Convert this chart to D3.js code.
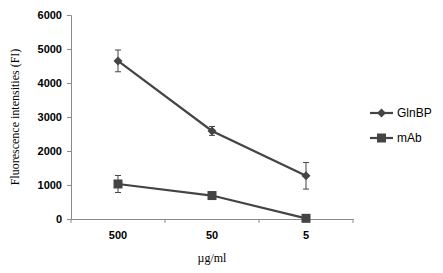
<!DOCTYPE html>
<html>
<head>
<meta charset="utf-8">
<script src="https://cdn.jsdelivr.net/npm/d3@7"></script>
<style>
  body { margin: 0; background: #fff; }
  svg { display: block; }
</style>
</head>
<body>
<div id="chart"></div>
<script>
// données
const doses = ["500", "50", "5"];
const glnbp = [4650, 2590, 1270];
const glnbpErr = [320, 130, 390];
const mab = [1030, 690, 20];
const mabErr = [250, 0, 0];
const yTicks = [0, 1000, 2000, 3000, 4000, 5000, 6000];

const width = 443, height = 273;
const margin = { left: 71, right: 90, top: 15, bottom: 54 };

const svg = d3.select("#chart").append("svg")
  .attr("width", width)
  .attr("height", height);

const x = d3.scaleBand()
  .domain(doses)
  .range([margin.left, width - margin.right]);

const y = d3.scaleLinear()
  .domain([0, 6000])
  .range([height - margin.bottom, margin.top]);

const axisColor = "#8a8a8a";
const lineColor = "#444";

// axe Y
const yAxis = svg.append("g")
  .attr("transform", `translate(${margin.left},0)`)
  .call(d3.axisLeft(y).tickValues(yTicks).tickSize(4).tickPadding(5).tickFormat(d3.format("d")));
yAxis.select(".domain").attr("stroke", axisColor);
yAxis.selectAll(".tick line").attr("stroke", axisColor);
yAxis.selectAll("text")
  .attr("font-family", "Liberation Sans, Arial, sans-serif")
  .attr("font-weight", "bold")
  .attr("font-size", 11)
  .attr("fill", "#000");

// axe X
const xAxis = svg.append("g")
  .attr("transform", `translate(0,${y(0)})`)
  .call(d3.axisBottom(x).tickSize(0).tickPadding(12));
xAxis.select(".domain").attr("stroke", axisColor);
xAxis.selectAll(".tick line").remove();
xAxis.selectAll("text")
  .attr("font-family", "Liberation Sans, Arial, sans-serif")
  .attr("font-weight", "bold")
  .attr("font-size", 11)
  .attr("fill", "#000");

// graduations entre catégories
const edges = doses.map(d => x(d)).concat([x.range()[1]]);
svg.append("g")
  .selectAll("line")
  .data(edges)
  .enter().append("line")
  .attr("x1", d => d).attr("x2", d => d)
  .attr("y1", y(0)).attr("y2", y(0) + 4)
  .attr("stroke", axisColor);

// titres des axes
svg.append("text")
  .attr("transform", `translate(15,${(y(0) + y(6000)) / 2}) rotate(-90)`)
  .attr("text-anchor", "middle")
  .attr("dy", "0.35em")
  .attr("font-family", "Liberation Serif, Times New Roman, serif")
  .attr("font-size", 12)
  .text("Fluorescence intensities (FI)");

svg.append("text")
  .attr("x", x("50") + x.bandwidth() / 2)
  .attr("y", 262)
  .attr("text-anchor", "middle")
  .attr("font-family", "Liberation Serif, Times New Roman, serif")
  .attr("font-size", 12)
  .text("µg/ml");

const cx = d => x(d) + x.bandwidth() / 2;

const series = [
  { name: "GlnBP", values: glnbp, err: glnbpErr, shape: "diamond" },
  { name: "mAb", values: mab, err: mabErr, shape: "square" }
];

const line = d3.line()
  .x((v, i) => cx(doses[i]))
  .y(v => y(v));

function marker(g, shape, px, py) {
  if (shape === "diamond") {
    g.append("path")
      .attr("d", `M${px},${py - 4.5}L${px + 4.5},${py}L${px},${py + 4.5}L${px - 4.5},${py}Z`)
      .attr("fill", lineColor);
  } else {
    g.append("rect")
      .attr("x", px - 4.5).attr("y", py - 4.5)
      .attr("width", 9).attr("height", 9)
      .attr("fill", lineColor);
  }
}

series.forEach(s => {
  const g = svg.append("g");
  // barres d'erreur
  s.values.forEach((v, i) => {
    const e = s.err[i];
    if (!e) return;
    const px = cx(doses[i]);
    g.append("line")
      .attr("x1", px).attr("x2", px)
      .attr("y1", y(v + e)).attr("y2", y(v - e))
      .attr("stroke", lineColor).attr("stroke-width", 1);
    [v + e, v - e].forEach(t => {
      g.append("line")
        .attr("x1", px - 3).attr("x2", px + 3)
        .attr("y1", y(t)).attr("y2", y(t))
        .attr("stroke", lineColor).attr("stroke-width", 1);
    });
  });
  g.append("path")
    .datum(s.values)
    .attr("d", line)
    .attr("fill", "none")
    .attr("stroke", lineColor)
    .attr("stroke-width", 2.2);
  s.values.forEach((v, i) => marker(g, s.shape, cx(doses[i]), y(v)));
});

// légende
const legend = svg.append("g");
series.forEach((s, i) => {
  const ly = 113 + i * 25;
  legend.append("line")
    .attr("x1", 370).attr("x2", 393)
    .attr("y1", ly).attr("y2", ly)
    .attr("stroke", lineColor).attr("stroke-width", 2.2);
  marker(legend, s.shape, 381.5, ly);
  legend.append("text")
    .attr("x", 397).attr("y", ly)
    .attr("dy", "0.35em")
    .attr("font-family", "Liberation Sans, Arial, sans-serif")
    .attr("font-size", 12)
    .text(s.name);
});
</script>
</body>
</html>
